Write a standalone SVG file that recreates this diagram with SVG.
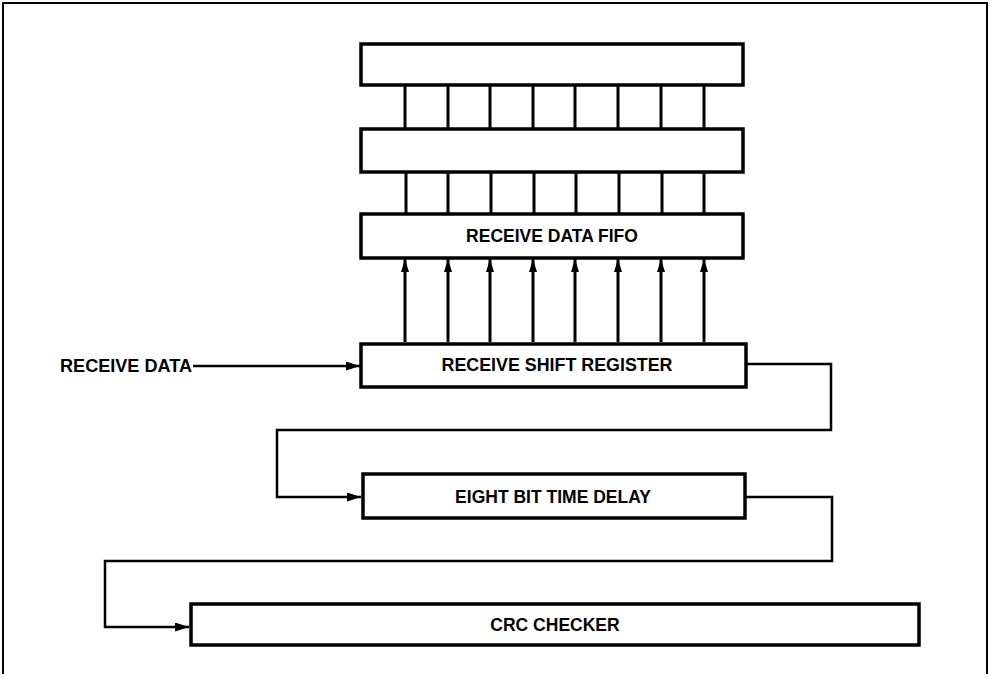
<svg xmlns="http://www.w3.org/2000/svg" width="991" height="674" viewBox="0 0 991 674">
<style>
.box{fill:#fff;stroke:#000;stroke-width:3.5}
.cell{stroke:#000;stroke-width:3;fill:none}
.wire{fill:none;stroke:#000;stroke-width:2.5}
.bus{fill:none;stroke:#000;stroke-width:3}
.lbl{font-family:"Liberation Sans",Arial,sans-serif;font-weight:bold;font-size:17.5px;fill:#000}
</style>
<defs>
<marker id="ah" viewBox="0 0 14 9" refX="14" refY="4.5" markerWidth="14" markerHeight="9" markerUnits="userSpaceOnUse" orient="auto">
<path d="M0,0 L14,4.5 L0,9 Z" fill="#000"/>
</marker>
<marker id="au" viewBox="0 0 13 8" refX="13" refY="4" markerWidth="13" markerHeight="8" markerUnits="userSpaceOnUse" orient="auto">
<path d="M0,0 L13,4 L0,8 Z" fill="#000"/>
</marker>
</defs>
<rect x="0" y="0" width="991" height="674" fill="#fff"/>
<path d="M3,674 V3 H987 V674" fill="none" stroke="#000" stroke-width="2"/>

<g id="fifo-stage3">
<rect class="box" x="361" y="44" width="382" height="41"/>
</g>
<g id="fifo-cells1" class="cell">
<path d="M405,85V129M448,85V129M490,85V129M533,85V129M575,85V129M618,85V129M661,85V129M704,85V129"/>
</g>
<g id="fifo-stage2">
<rect class="box" x="361" y="129" width="382" height="43"/>
</g>
<g id="fifo-cells2" class="cell">
<path d="M406,172V214M448,172V214M491,172V214M534,172V214M576,172V214M619,172V214M662,172V214M704,172V214"/>
</g>
<g id="fifo">
<rect class="box" x="361" y="214" width="382" height="44"/>
<text class="lbl" x="552" y="242" text-anchor="middle">RECEIVE DATA FIFO</text>
</g>
<g id="shift">
<rect class="box" x="361" y="344" width="385" height="43"/>
<text class="lbl" x="557" y="371" text-anchor="middle" textLength="231" lengthAdjust="spacingAndGlyphs">RECEIVE SHIFT REGISTER</text>
</g>
<g id="delay">
<rect class="box" x="363" y="474" width="382" height="44"/>
<text class="lbl" x="553" y="503" text-anchor="middle">EIGHT BIT TIME DELAY</text>
</g>
<g id="crc">
<rect class="box" x="191" y="604" width="728" height="41"/>
<text class="lbl" x="555" y="631" text-anchor="middle">CRC CHECKER</text>
</g>
<g id="input-label">
<text class="lbl" x="60" y="372" textLength="132" lengthAdjust="spacingAndGlyphs">RECEIVE DATA</text>
</g>

<g id="connectors">
<path class="wire" d="M193,366 H360" marker-end="url(#ah)"/>
<g class="bus">
<path d="M405,342V259" marker-end="url(#au)"/>
<path d="M448,342V259" marker-end="url(#au)"/>
<path d="M490,342V259" marker-end="url(#au)"/>
<path d="M533,342V259" marker-end="url(#au)"/>
<path d="M575,342V259" marker-end="url(#au)"/>
<path d="M618,342V259" marker-end="url(#au)"/>
<path d="M661,342V259" marker-end="url(#au)"/>
<path d="M704,342V259" marker-end="url(#au)"/>
</g>
<path class="wire" d="M747,364 H831 V430 H277 V497 H361" marker-end="url(#ah)"/>
<path class="wire" d="M746,497 H832 V561 H105 V627 H189" marker-end="url(#ah)"/>
</g>
</svg>
